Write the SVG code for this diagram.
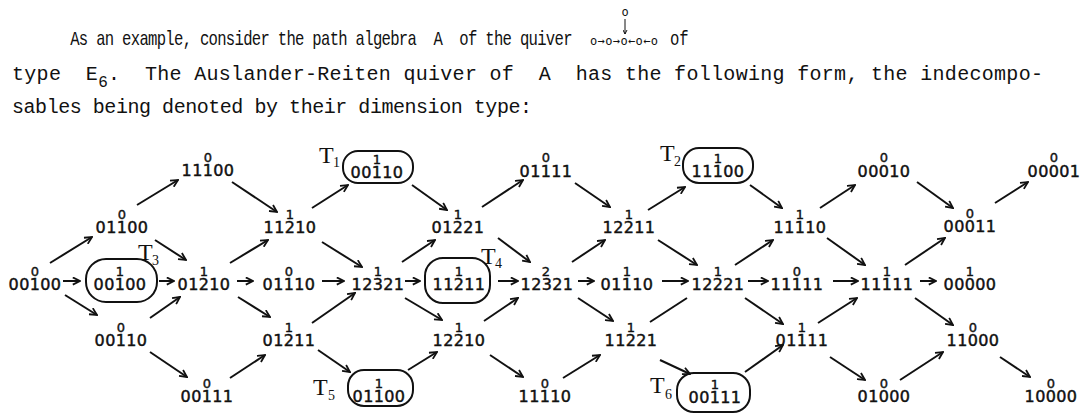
<svg xmlns="http://www.w3.org/2000/svg" width="1084" height="419" viewBox="0 0 1084 419">
<style>
.t{font-family:"Liberation Mono","DejaVu Sans Mono",monospace;font-size:20px;fill:#111;white-space:pre}
.q{font-family:"DejaVu Sans Mono",monospace;font-size:12px;fill:#111}
.d{font-family:"DejaVu Sans",sans-serif;font-size:16px;text-anchor:middle;letter-spacing:0.4px;fill:#111;stroke:#111;stroke-width:0.45}
.s{font-family:"DejaVu Sans",sans-serif;font-size:13px;text-anchor:middle;fill:#111;stroke:#111;stroke-width:0.4}
.b{fill:none;stroke:#111;stroke-width:2}
.T{font-family:"Liberation Serif",serif;font-size:24px;fill:#111}
.Ts{font-family:"Liberation Serif",serif;font-size:14px;fill:#111}
#edges line{stroke:#111;stroke-width:2;fill:none;marker-end:url(#ah)}
#edges line.nh{marker-end:none}
</style>
<defs>
<marker id="ah" viewBox="0 0 10 10" refX="9" refY="5" markerWidth="9" markerHeight="9" orient="auto" markerUnits="userSpaceOnUse">
<path d="M1,1 L9,5 L1,9" fill="none" stroke="#111" stroke-width="2"/>
</marker>
<marker id="ahs" viewBox="0 0 10 10" refX="9" refY="5" markerWidth="5" markerHeight="5" orient="auto" markerUnits="userSpaceOnUse">
<path d="M1,1 L9,5 L1,9" fill="none" stroke="#111" stroke-width="2"/>
</marker>
</defs>
<rect width="1084" height="419" fill="#fff"/>
<g id="paragraph">
<g transform="scale(0.78,1)">
<text class="t" x="90" y="45" textLength="644" lengthAdjust="spacing">As an example, consider the path algebra  A  of the quiver</text>
<text class="t" x="859" y="45">of</text>
</g>
<text class="t" x="12" y="80" textLength="1031" lengthAdjust="spacing">type  E<tspan dy="7" font-size="16">6</tspan><tspan dy="-7">.  The Auslander-Reiten quiver of  A  has the following form, the indecompo-</tspan></text>
<text class="t" x="12" y="113" textLength="520" lengthAdjust="spacing">sables being denoted by their dimension type:</text>
<text class="q" x="590" y="45" textLength="68" lengthAdjust="spacing">o→o→o←o←o</text>
<text class="q" x="625" y="16" text-anchor="middle">o</text>
<line x1="625" y1="19" x2="625" y2="34" stroke="#111" stroke-width="1" marker-end="url(#ahs)"/>
</g>
<g id="edges">
<line x1="50" y1="263" x2="92" y2="237"/>
<line x1="63" y1="281" x2="80" y2="281"/>
<line x1="65" y1="295" x2="97" y2="315"/>
<line x1="137" y1="205" x2="178" y2="180"/>
<line x1="155" y1="240" x2="186" y2="260"/>
<line x1="159" y1="281" x2="174" y2="281"/>
<line x1="150" y1="318" x2="180" y2="297"/>
<line x1="150" y1="352" x2="187" y2="377"/>
<line x1="232" y1="182" x2="277" y2="212"/>
<line x1="230" y1="263" x2="268" y2="240"/>
<line x1="237" y1="281" x2="253" y2="281"/>
<line x1="238" y1="297" x2="270" y2="317"/>
<line x1="230" y1="378" x2="265" y2="355"/>
<line x1="312" y1="208" x2="348" y2="185"/>
<line x1="322" y1="242" x2="362" y2="267"/>
<line x1="322" y1="281" x2="344" y2="281"/>
<line x1="312" y1="323" x2="355" y2="293"/>
<line x1="318" y1="350" x2="350" y2="372"/>
<line x1="412" y1="185" x2="447" y2="210"/>
<line x1="402" y1="262" x2="435" y2="240"/>
<line x1="405" y1="281" x2="420" y2="281"/>
<line x1="405" y1="298" x2="442" y2="320"/>
<line x1="408" y1="370" x2="437" y2="352"/>
<line x1="482" y1="207" x2="523" y2="180"/>
<line x1="498" y1="238" x2="530" y2="262"/>
<line x1="498" y1="281" x2="518" y2="281"/>
<line x1="484" y1="321" x2="518" y2="298"/>
<line x1="490" y1="355" x2="523" y2="377"/>
<line x1="575" y1="183" x2="610" y2="207"/>
<line x1="572" y1="262" x2="605" y2="240"/>
<line x1="578" y1="281" x2="594" y2="281"/>
<line x1="578" y1="298" x2="613" y2="321"/>
<line x1="563" y1="378" x2="600" y2="355"/>
<line x1="648" y1="210" x2="685" y2="187"/>
<line x1="658" y1="240" x2="697" y2="265"/>
<line x1="662" y1="281" x2="688" y2="281"/>
<line class="nh" x1="650" y1="322" x2="687" y2="298"/>
<line x1="660" y1="360" x2="690" y2="374"/>
<line x1="750" y1="185" x2="782" y2="208"/>
<line x1="735" y1="265" x2="773" y2="240"/>
<line x1="748" y1="281" x2="768" y2="281"/>
<line x1="745" y1="298" x2="783" y2="324"/>
<line x1="745" y1="372" x2="783" y2="345"/>
<line x1="820" y1="208" x2="855" y2="185"/>
<line x1="827" y1="238" x2="865" y2="265"/>
<line x1="833" y1="281" x2="858" y2="281"/>
<line x1="818" y1="323" x2="857" y2="298"/>
<line x1="830" y1="357" x2="865" y2="380"/>
<line x1="917" y1="182" x2="953" y2="208"/>
<line x1="905" y1="265" x2="945" y2="238"/>
<line x1="920" y1="281" x2="936" y2="281"/>
<line x1="915" y1="298" x2="953" y2="325"/>
<line x1="900" y1="380" x2="943" y2="352"/>
<line x1="995" y1="203" x2="1028" y2="182"/>
<line x1="1000" y1="357" x2="1030" y2="377"/>
</g>
<g id="n00100"><text class="s" x="35" y="276">0</text><text class="d" x="35" y="290">00100</text></g>
<g id="n01100"><text class="s" x="122" y="219">0</text><text class="d" x="122" y="233">01100</text></g>
<g id="nT3"><rect class="b" x="86" y="259" width="71" height="43" rx="20"/><text class="s" x="120" y="276">1</text><text class="d" x="120" y="290">00100</text><text class="T" x="138" y="260">T</text><text class="Ts" x="152" y="265">3</text></g>
<g id="n00110"><text class="s" x="121" y="332">0</text><text class="d" x="121" y="346">00110</text></g>
<g id="n11100"><text class="s" x="208" y="162">0</text><text class="d" x="208" y="176">11100</text></g>
<g id="n01210"><text class="s" x="204" y="276">1</text><text class="d" x="204" y="290">01210</text></g>
<g id="n00111"><text class="s" x="207" y="388">0</text><text class="d" x="207" y="402">00111</text></g>
<g id="n11210"><text class="s" x="290" y="219">1</text><text class="d" x="290" y="233">11210</text></g>
<g id="n01110a"><text class="s" x="289" y="276">0</text><text class="d" x="289" y="290">01110</text></g>
<g id="n01211"><text class="s" x="289" y="332">1</text><text class="d" x="289" y="346">01211</text></g>
<g id="nT1"><rect class="b" x="343" y="151" width="70" height="32" rx="15"/><text class="s" x="377" y="164">1</text><text class="d" x="377" y="178">00110</text><text class="T" x="319" y="163">T</text><text class="Ts" x="333" y="167">1</text></g>
<g id="n12321a"><text class="s" x="378" y="276">1</text><text class="d" x="378" y="290">12321</text></g>
<g id="nT5"><rect class="b" x="348" y="370" width="65" height="36" rx="16"/><text class="s" x="379" y="388">1</text><text class="d" x="379" y="402">01100</text><text class="T" x="313" y="395">T</text><text class="Ts" x="328" y="400">5</text></g>
<g id="n01221"><text class="s" x="458" y="219">1</text><text class="d" x="458" y="233">01221</text></g>
<g id="nT4"><rect class="b" x="425" y="258" width="65" height="45" rx="18"/><text class="s" x="459" y="276">1</text><text class="d" x="459" y="290">11211</text><text class="T" x="481" y="264">T</text><text class="Ts" x="495" y="268">4</text></g>
<g id="n12210"><text class="s" x="459" y="332">1</text><text class="d" x="459" y="346">12210</text></g>
<g id="n01111a"><text class="s" x="546" y="162">0</text><text class="d" x="546" y="177">01111</text></g>
<g id="n12321b"><text class="s" x="546" y="276">2</text><text class="d" x="547" y="290">12321</text></g>
<g id="n11110a"><text class="s" x="545" y="388">0</text><text class="d" x="545" y="402">11110</text></g>
<g id="n12211"><text class="s" x="629" y="219">1</text><text class="d" x="629" y="233">12211</text></g>
<g id="n01110b"><text class="s" x="627" y="276">1</text><text class="d" x="627" y="290">01110</text></g>
<g id="n11221"><text class="s" x="631" y="332">1</text><text class="d" x="631" y="346">11221</text></g>
<g id="nT2"><rect class="b" x="683" y="148" width="70" height="35" rx="16"/><text class="s" x="718" y="163">1</text><text class="d" x="718" y="177">11100</text><text class="T" x="660" y="161">T</text><text class="Ts" x="674" y="166">2</text></g>
<g id="n12221"><text class="s" x="718" y="276">1</text><text class="d" x="718" y="290">12221</text></g>
<g id="nT6"><rect class="b" x="677" y="373" width="73" height="39" rx="17"/><text class="s" x="715" y="389">1</text><text class="d" x="715" y="403">00111</text><text class="T" x="650" y="393">T</text><text class="Ts" x="665" y="399">6</text></g>
<g id="n11110b"><text class="s" x="800" y="219">1</text><text class="d" x="800" y="233">11110</text></g>
<g id="n11111a"><text class="s" x="797" y="276">0</text><text class="d" x="797" y="290">11111</text></g>
<g id="n01111b"><text class="s" x="802" y="332">1</text><text class="d" x="802" y="346">01111</text></g>
<g id="n00010"><text class="s" x="884" y="162">0</text><text class="d" x="884" y="177">00010</text></g>
<g id="n11111b"><text class="s" x="887" y="276">1</text><text class="d" x="887" y="290">11111</text></g>
<g id="n01000"><text class="s" x="884" y="388">0</text><text class="d" x="884" y="402">01000</text></g>
<g id="n00011"><text class="s" x="970" y="218">0</text><text class="d" x="970" y="232">00011</text></g>
<g id="n00000"><text class="s" x="970" y="276">1</text><text class="d" x="970" y="290">00000</text></g>
<g id="n11000"><text class="s" x="973" y="332">0</text><text class="d" x="973" y="346">11000</text></g>
<g id="n00001"><text class="s" x="1054" y="162">0</text><text class="d" x="1054" y="177">00001</text></g>
<g id="n10000"><text class="s" x="1051" y="388">0</text><text class="d" x="1051" y="402">10000</text></g>
</svg>
